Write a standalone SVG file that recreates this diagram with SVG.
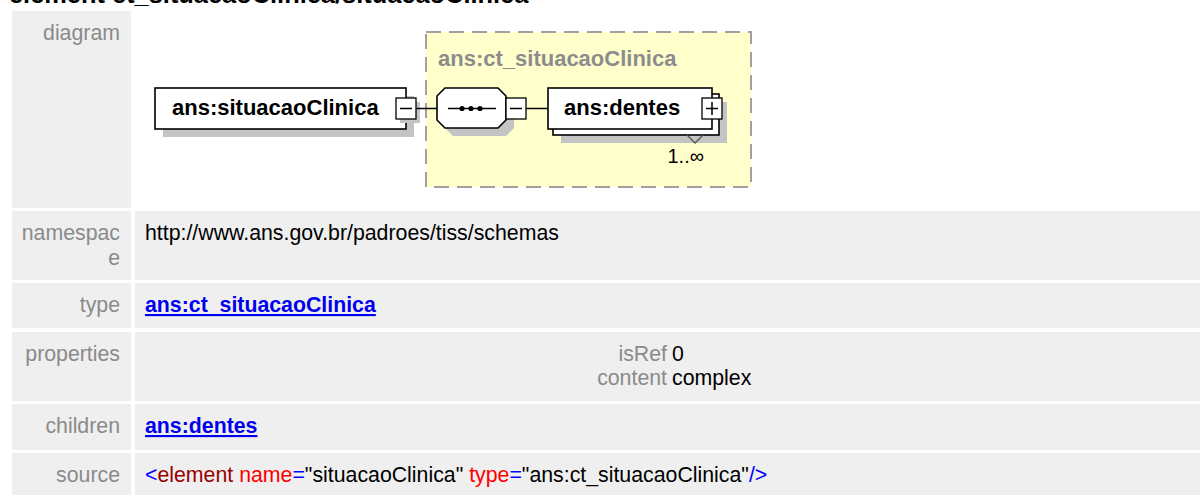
<svg xmlns="http://www.w3.org/2000/svg" width="1200" height="495" viewBox="0 0 1200 495">
<style>
.bg{fill:#efefef}
.lbl{font-family:"Liberation Sans",Arial,sans-serif;font-size:21.3px;fill:#8a8a8a;text-anchor:end}
.val{font-family:"Liberation Sans",Arial,sans-serif;font-size:21.3px;fill:#000}
.lnk{font-family:"Liberation Sans",Arial,sans-serif;font-size:21.3px;font-weight:bold;fill:#0000ee;text-decoration:underline}
.nt{font-family:"Liberation Sans",Arial,sans-serif;font-size:22px;font-weight:bold;fill:#000}
.box{fill:#fff;stroke:#000;stroke-width:1.6}
.shd{fill:#c4c4c4}
.btn{fill:#fff;stroke:#000;stroke-width:1.3}
.ln{stroke:#000;stroke-width:1.5;fill:none}
.blue{fill:#0000ff}.dred{fill:#990000}.red{fill:#ff0000}
</style>
<text x="9" y="2.5" font-family="Liberation Sans,Arial,sans-serif" font-size="25.4" font-weight="bold" fill="#000">element ct_situacaoClinica/situacaoClinica</text>
<g id="table">
<rect class="bg" x="12" y="11" width="119" height="197"/>
<rect fill="#fff" x="135" y="11" width="1065" height="197"/>
<rect class="bg" x="12" y="211" width="119" height="69"/>
<rect class="bg" x="135" y="211" width="1065" height="69"/>
<rect class="bg" x="12" y="283" width="119" height="45"/>
<rect class="bg" x="135" y="283" width="1065" height="45"/>
<rect class="bg" x="12" y="332" width="119" height="69"/>
<rect class="bg" x="135" y="332" width="1065" height="69"/>
<rect class="bg" x="12" y="404" width="119" height="46"/>
<rect class="bg" x="135" y="404" width="1065" height="46"/>
<rect class="bg" x="12" y="453" width="119" height="50"/>
<rect class="bg" x="135" y="453" width="1065" height="50"/>
<text class="lbl" x="120" y="40">diagram</text>
<text class="lbl" x="120" y="240">namespac</text>
<text class="lbl" x="120" y="265">e</text>
<text class="val" x="145" y="240">http://www.ans.gov.br/padroes/tiss/schemas</text>
<text class="lbl" x="120" y="312">type</text>
<text class="lnk" x="145" y="312">ans:ct_situacaoClinica</text>
<text class="lbl" x="120" y="361">properties</text>
<text class="lbl" x="667" y="361">isRef</text>
<text class="val" x="672" y="361">0</text>
<text class="lbl" x="667" y="385">content</text>
<text class="val" x="672" y="385">complex</text>
<text class="lbl" x="120" y="433">children</text>
<text class="lnk" x="145" y="433">ans:dentes</text>
<text class="lbl" x="120" y="482">source</text>
<text class="val" x="145" y="482" xml:space="preserve"><tspan class="blue">&lt;</tspan><tspan class="dred">element</tspan> <tspan class="red">name</tspan><tspan class="blue">=</tspan>"situacaoClinica" <tspan class="red">type</tspan><tspan class="blue">=</tspan>"ans:ct_situacaoClinica"<tspan class="blue">/&gt;</tspan></text>
</g>
<g id="node-ct_situacaoClinica">
<rect x="426" y="32" width="325" height="155" fill="#ffffcc" stroke="#a0a0a0" stroke-width="2" stroke-dasharray="15 8"/>
<text x="438" y="66" font-family="Liberation Sans,Arial,sans-serif" font-size="22" font-weight="bold" fill="#8c8c8c">ans:ct_situacaoClinica</text>
</g>
<g id="node-situacaoClinica">
<rect class="shd" x="163" y="96" width="251" height="41"/>
<rect class="box" x="155" y="88" width="251" height="41"/>
<text class="nt" x="172" y="115">ans:situacaoClinica</text>
<rect class="shd" x="400" y="102" width="20" height="21"/>
<rect class="btn" x="396" y="98" width="20" height="21"/>
<line class="ln" x1="400" y1="108.5" x2="412" y2="108.5"/>
</g>
<g id="node-sequence">
<polygon class="shd" points="453,96 506,96 514,104 514,128 506,136 453,136 445,128 445,104"/>
<polygon class="box" points="445,88 498,88 506,96 506,120 498,128 445,128 437,120 437,96"/>
<line class="ln" x1="448" y1="108.5" x2="496" y2="108.5"/>
<circle cx="462" cy="108.5" r="2.6"/>
<circle cx="471" cy="108.5" r="2.6"/>
<circle cx="480" cy="108.5" r="2.6"/>
<rect class="btn" x="506" y="98" width="20" height="21"/>
<line class="ln" x1="510" y1="108.5" x2="522" y2="108.5"/>
</g>
<g id="node-dentes">
<rect class="shd" x="561" y="102" width="166" height="41"/>
<rect class="box" x="553" y="94" width="166" height="41"/>
<rect class="box" x="548" y="88" width="164" height="41"/>
<text class="nt" x="564" y="115">ans:dentes</text>
<rect class="btn" x="702" y="98" width="20" height="21"/>
<line class="ln" x1="706" y1="108.5" x2="718" y2="108.5"/>
<line class="ln" x1="712" y1="102" x2="712" y2="115"/>
<polyline points="687,135 695,143 703,135" fill="none" stroke="#555" stroke-width="1.3"/>
<text x="704" y="163" text-anchor="end" font-family="Liberation Sans,Arial,sans-serif" font-size="20" fill="#000">1..∞</text>
</g>
<g id="connectors">
<line class="ln" x1="416" y1="108.5" x2="437" y2="108.5"/>
<line class="ln" x1="526" y1="108.5" x2="548" y2="108.5"/>
</g>
</svg>
